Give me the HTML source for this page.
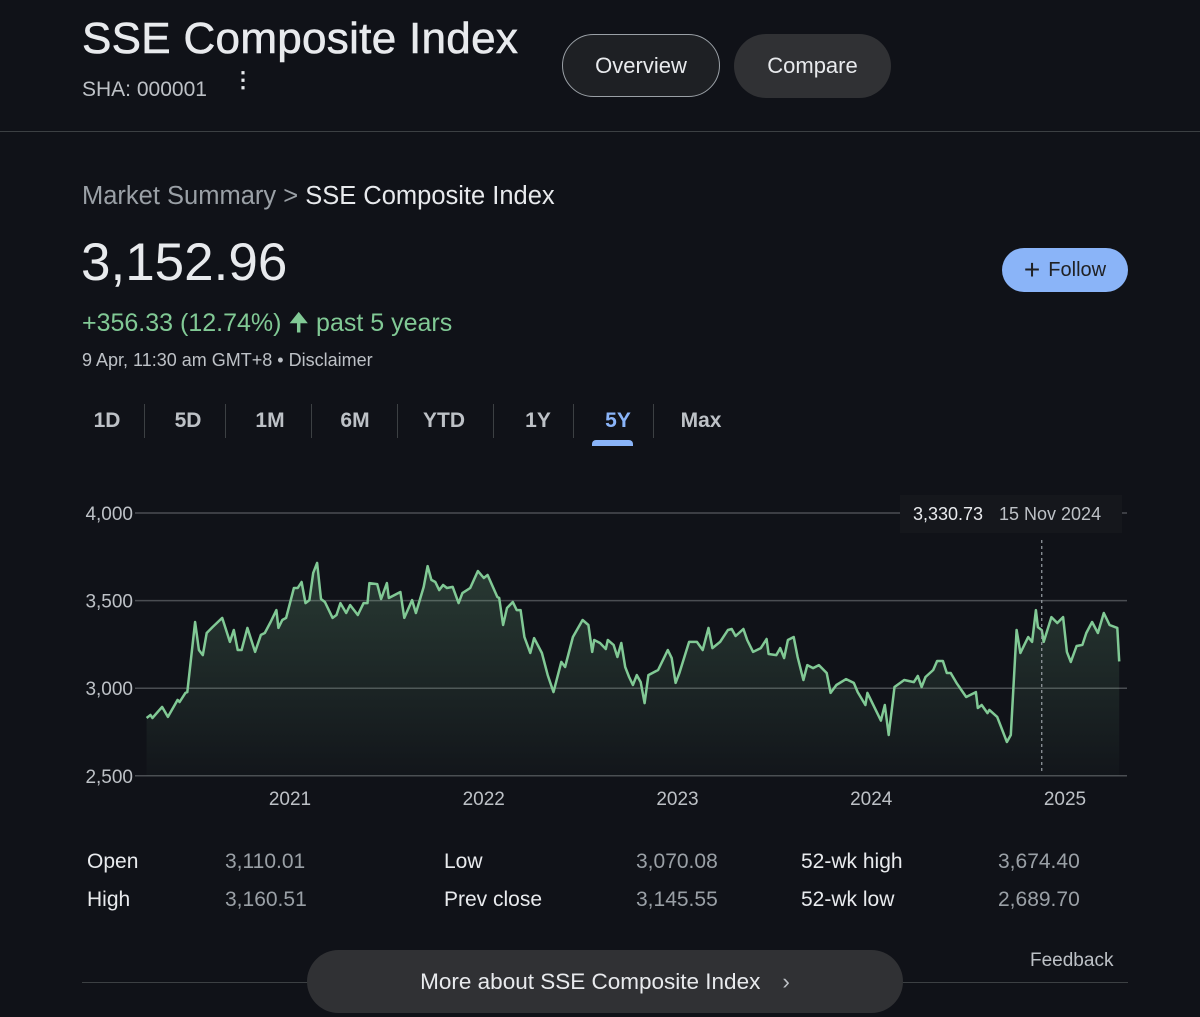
<!DOCTYPE html>
<html><head><meta charset="utf-8"><style>
body{margin:0;width:1200px;height:1017px;background:#101218;font-family:"Liberation Sans",sans-serif;color:#e8eaed;overflow:hidden;position:relative}
.a{position:absolute;white-space:nowrap}
.btn{position:absolute;border-radius:32px;display:flex;align-items:center;justify-content:center;font-size:22px}
.tab{position:absolute;top:409px;font-size:21px;color:#bdc1c6;transform:translateX(-50%);font-weight:bold}
.sep{position:absolute;top:404px;width:1px;height:34px;background:#3c4043}
.st{position:absolute;font-size:21px}
</style></head><body>
<div class="a" style="left:82px;top:14px;font-size:44px;color:#e8eaed;letter-spacing:0.3px;-webkit-text-stroke:0.6px #e8eaed">SSE Composite Index</div>
<div class="a" style="left:82px;top:78px;font-size:21px;color:#bdc1c6">SHA: 000001</div>
<div class="a" style="left:232px;top:76px;font-size:22px;color:#e8eaed;line-height:8px;font-weight:bold">&#8942;</div>
<div class="btn" style="left:562px;top:34px;width:156px;height:61px;border:1.5px solid #9aa0a6;background:#1e2024">Overview</div>
<div class="btn" style="left:734px;top:34px;width:157px;height:64px;background:#303134">Compare</div>
<div class="a" style="left:0;top:131px;width:1200px;height:1px;background:#3c4043"></div>
<div class="a" style="left:82px;top:182px;font-size:25.5px;color:#9aa0a6">Market Summary &gt; <span style="color:#e8eaed">SSE Composite Index</span></div>
<div class="a" style="left:81px;top:232px;font-size:53px;color:#e8eaed">3,152.96</div>
<div class="a" style="left:82px;top:304px;font-size:25px;color:#81c995">+356.33 (12.74%) &#129033; past 5 years</div>
<div class="a" style="left:82px;top:350px;font-size:18px;color:#bdc1c6">9 Apr, 11:30 am GMT+8 • Disclaimer</div>
<div class="btn" style="left:1002px;top:248px;width:126px;height:44px;background:#8ab4f8;color:#202124;font-size:20px;border-radius:22px"><span style="font-size:28px;margin-right:8px;line-height:20px">+</span>Follow</div>

<div class="tab" style="left:107px">1D</div>
<div class="sep" style="left:144px"></div>
<div class="tab" style="left:188px">5D</div>
<div class="sep" style="left:225px"></div>
<div class="tab" style="left:270px">1M</div>
<div class="sep" style="left:311px"></div>
<div class="tab" style="left:355px">6M</div>
<div class="sep" style="left:397px"></div>
<div class="tab" style="left:444px">YTD</div>
<div class="sep" style="left:493px"></div>
<div class="tab" style="left:538px">1Y</div>
<div class="sep" style="left:573px"></div>
<div class="tab" style="left:618px;color:#8ab4f8">5Y</div>
<div class="a" style="left:592px;top:440px;width:41px;height:6px;border-radius:4px 4px 0 0;background:#8ab4f8"></div>
<div class="sep" style="left:653px"></div>
<div class="tab" style="left:701px">Max</div>

<svg id="chart" class="a" style="left:0;top:470px" width="1200" height="350"></svg>

<div class="st" style="left:87px;top:850px">Open</div>
<div class="st" style="left:225px;top:850px;color:#9aa0a6">3,110.01</div>
<div class="st" style="left:87px;top:888px">High</div>
<div class="st" style="left:225px;top:888px;color:#9aa0a6">3,160.51</div>
<div class="st" style="left:444px;top:850px">Low</div>
<div class="st" style="left:636px;top:850px;color:#9aa0a6">3,070.08</div>
<div class="st" style="left:444px;top:888px">Prev close</div>
<div class="st" style="left:636px;top:888px;color:#9aa0a6">3,145.55</div>
<div class="st" style="left:801px;top:850px">52-wk high</div>
<div class="st" style="left:998px;top:850px;color:#9aa0a6">3,674.40</div>
<div class="st" style="left:801px;top:888px">52-wk low</div>
<div class="st" style="left:998px;top:888px;color:#9aa0a6">2,689.70</div>
<div class="a" style="left:1030px;top:950px;font-size:19px;color:#bdc1c6">Feedback</div>
<div class="a" style="left:82px;top:982px;width:1046px;height:1px;background:#3c4043"></div>
<div class="btn" style="left:307px;top:950px;width:596px;height:63px;background:#303134;font-size:22.5px">More about SSE Composite Index<span style="margin-left:22px;color:#bdc1c6">&#8250;</span></div>

<script>
const yTicks=[2500,3000,3500,4000];
const yTickLabels=["2,500","3,000","3,500","4,000"];
const xTicks=[2021,2022,2023,2024,2025];
const dates=[2020.26,2020.28,2020.29,2020.34,2020.37,2020.42,2020.43,2020.46,2020.47,2020.51,2020.53,2020.55,2020.57,2020.60,2020.65,2020.67,2020.69,2020.71,2020.73,2020.75,2020.78,2020.82,2020.85,2020.87,2020.90,2020.93,2020.94,2020.96,2020.98,2021.02,2021.04,2021.06,2021.08,2021.10,2021.12,2021.14,2021.16,2021.18,2021.22,2021.24,2021.26,2021.29,2021.31,2021.35,2021.38,2021.40,2021.41,2021.45,2021.47,2021.50,2021.51,2021.57,2021.59,2021.63,2021.65,2021.69,2021.71,2021.73,2021.75,2021.77,2021.79,2021.81,2021.84,2021.87,2021.89,2021.93,2021.97,2022.00,2022.02,2022.07,2022.08,2022.10,2022.12,2022.15,2022.17,2022.19,2022.21,2022.24,2022.26,2022.30,2022.33,2022.36,2022.40,2022.42,2022.46,2022.51,2022.54,2022.56,2022.57,2022.60,2022.63,2022.64,2022.67,2022.69,2022.71,2022.73,2022.75,2022.77,2022.79,2022.81,2022.83,2022.85,2022.90,2022.95,2022.97,2022.99,2023.01,2023.06,2023.10,2023.13,2023.16,2023.18,2023.22,2023.26,2023.28,2023.30,2023.34,2023.36,2023.39,2023.43,2023.46,2023.47,2023.51,2023.53,2023.55,2023.57,2023.60,2023.62,2023.65,2023.67,2023.70,2023.73,2023.77,2023.79,2023.82,2023.87,2023.91,2023.93,2023.97,2023.98,2024.05,2024.07,2024.09,2024.12,2024.17,2024.22,2024.24,2024.26,2024.28,2024.32,2024.34,2024.37,2024.39,2024.41,2024.44,2024.49,2024.54,2024.55,2024.57,2024.60,2024.61,2024.65,2024.70,2024.72,2024.75,2024.77,2024.79,2024.81,2024.83,2024.85,2024.86,2024.88,2024.89,2024.93,2024.96,2024.99,2025.01,2025.03,2025.06,2025.09,2025.11,2025.14,2025.17,2025.20,2025.23,2025.27,2025.28];
const values=[2830,2847,2830,2893,2836,2933,2921,2973,2978,3378,3218,3189,3315,3349,3401,3332,3264,3332,3218,3218,3344,3207,3304,3315,3378,3446,3344,3389,3401,3572,3572,3606,3486,3503,3658,3715,3509,3492,3401,3418,3486,3429,3475,3418,3486,3486,3600,3594,3509,3600,3515,3549,3401,3503,3429,3578,3697,3618,3606,3560,3589,3572,3578,3486,3543,3572,3669,3629,3646,3521,3515,3361,3458,3492,3446,3446,3292,3201,3286,3201,3075,2978,3150,3121,3292,3389,3361,3207,3275,3258,3224,3275,3247,3178,3258,3121,3064,3018,3075,3035,2915,3075,3104,3218,3172,3030,3087,3264,3264,3218,3344,3229,3264,3332,3338,3298,3338,3275,3207,3229,3281,3195,3189,3229,3172,3275,3292,3178,3047,3132,3115,3132,3087,2973,3018,3052,3030,2978,2904,2973,2815,2904,2733,3007,3047,3035,3070,3007,3064,3104,3155,3155,3087,3087,3030,2950,2978,2887,2904,2858,2876,2836,2693,2733,3332,3201,3247,3292,3264,3446,3349,3331,3264,3406,3372,3406,3207,3150,3241,3247,3315,3378,3315,3429,3361,3344,3153];
const tipDate=2024.88, tipValue="3,330.73", tipLabel="15 Nov 2024";

const OY=470;
const X=d=>290+(d-2021)*193.75;
const Y=v=>513-OY+(4000-v)*0.1752;
const svg=document.getElementById('chart');
const NS='http://www.w3.org/2000/svg';
function mk(t,a){const e=document.createElementNS(NS,t);for(const k in a)e.setAttribute(k,a[k]);svg.appendChild(e);return e;}
const defs=mk('defs',{});
defs.innerHTML='<linearGradient id="g" x1="0" y1="0" x2="0" y2="1"><stop offset="0" stop-color="#81c995" stop-opacity="0.22"/><stop offset="1" stop-color="#81c995" stop-opacity="0.02"/></linearGradient>';
yTicks.forEach((t,i)=>{
  const l=mk('line',{x1:135,x2:1127,y1:Y(t),y2:Y(t),stroke:'#4a4d52','stroke-width':1.5});
  
  
  const tx=mk('text',{x:133,y:Y(t)+7,'text-anchor':'end','font-size':19,fill:'#bdc1c6','font-family':'Liberation Sans'});
  tx.textContent=yTickLabels[i];
  
  
});
xTicks.forEach(t=>{
  const tx=mk('text',{x:X(t),y:335,'text-anchor':'middle','font-size':19,fill:'#bdc1c6','font-family':'Liberation Sans'});
  tx.textContent=t;
  
  
});
let d='';dates.forEach((dt,i)=>{d+=(i?'L':'M')+X(dt).toFixed(1)+','+Y(values[i]).toFixed(1);});
const area=mk('path',{d:d+'L'+X(dates[dates.length-1]).toFixed(1)+','+Y(2500)+'L'+X(dates[0]).toFixed(1)+','+Y(2500)+'Z',fill:'url(#g)'});


const line=mk('path',{d:d,fill:'none',stroke:'#81c995','stroke-width':2.5,'stroke-linejoin':'round'});


const cl=mk('line',{x1:X(tipDate),x2:X(tipDate),y1:70,y2:303,stroke:'#9aa0a6','stroke-width':1.2,'stroke-dasharray':'3,3'});


const box=mk('rect',{x:900,y:25,width:222,height:38,fill:'#15171c'});


const t1=mk('text',{x:913,y:50,'font-size':18,fill:'#e8eaed','font-family':'Liberation Sans'});
t1.textContent=tipValue;


const t2=mk('text',{x:999,y:50,'font-size':18,fill:'#bdc1c6','font-family':'Liberation Sans'});
t2.textContent=tipLabel;


</script>
</body></html>
